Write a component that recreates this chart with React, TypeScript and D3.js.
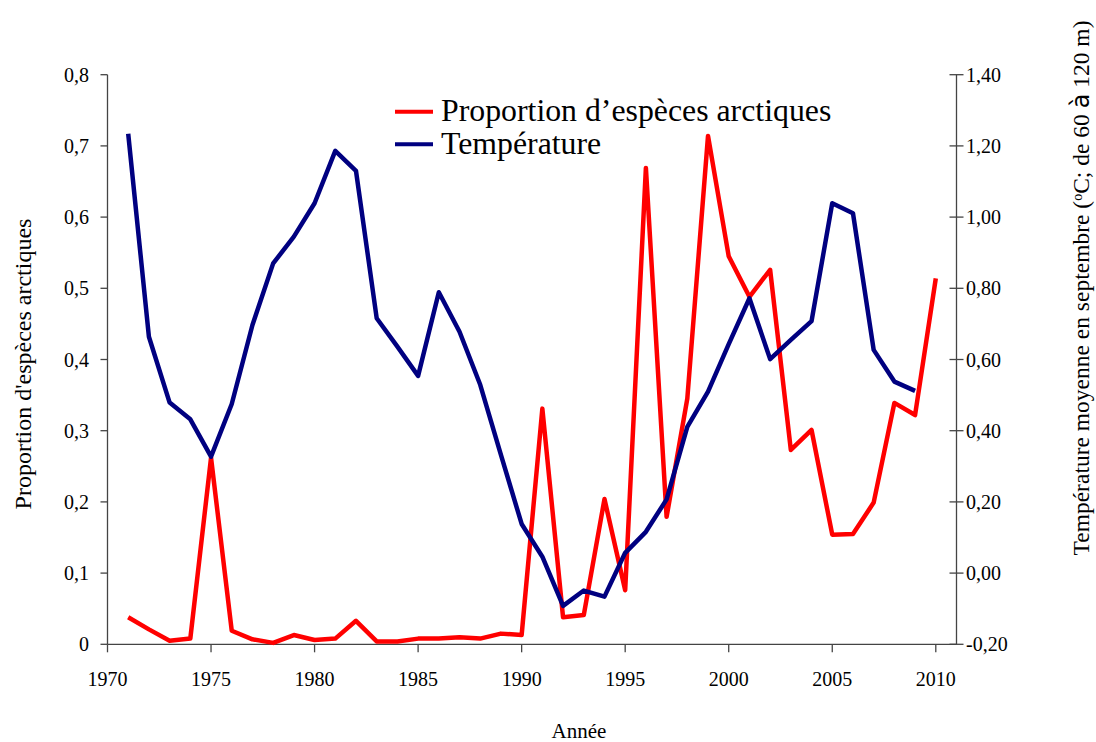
import React from "react";
import * as d3 from "d3";

const years = [1971, 1972, 1973, 1974, 1975, 1976, 1977, 1978, 1979, 1980, 1981, 1982, 1983, 1984, 1985, 1986, 1987, 1988, 1989, 1990, 1991, 1992, 1993, 1994, 1995, 1996, 1997, 1998, 1999, 2000, 2001, 2002, 2003, 2004, 2005, 2006, 2007, 2008, 2009, 2010];

const proportion = [0.038, 0.021, 0.005, 0.008, 0.262, 0.019, 0.007, 0.002, 0.013, 0.006, 0.008, 0.033, 0.004, 0.004, 0.008, 0.008, 0.010, 0.008, 0.015, 0.013, 0.331, 0.038, 0.041, 0.204, 0.076, 0.669, 0.179, 0.345, 0.714, 0.545, 0.488, 0.526, 0.273, 0.301, 0.154, 0.155, 0.199, 0.339, 0.322, 0.514];

const temperature = [1.234, 0.664, 0.479, 0.432, 0.327, 0.475, 0.697, 0.870, 0.945, 1.039, 1.186, 1.130, 0.716, 0.636, 0.554, 0.789, 0.678, 0.529, 0.332, 0.138, 0.046, -0.092, -0.049, -0.066, 0.057, 0.116, 0.207, 0.411, 0.510, 0.643, 0.772, 0.601, 0.655, 0.708, 1.039, 1.011, 0.627, 0.538, 0.512];

const xTicks = [1970, 1975, 1980, 1985, 1990, 1995, 2000, 2005, 2010];
const leftTicks = [0, 0.1, 0.2, 0.3, 0.4, 0.5, 0.6, 0.7, 0.8];
const leftTickLabels = ["0", "0,1", "0,2", "0,3", "0,4", "0,5", "0,6", "0,7", "0,8"];
const rightTicks = [-0.2, 0, 0.2, 0.4, 0.6, 0.8, 1.0, 1.2, 1.4];
const rightTickLabels = ["-0,20", "0,00", "0,20", "0,40", "0,60", "0,80", "1,00", "1,20", "1,40"];

const seriesNames = ["Proportion d\u2019esp\u00e8ces arctiques", "Temp\u00e9rature"];
const seriesColors = ["#ff0000", "#000080"];

const FONT = "'Liberation Serif', 'Times New Roman', serif";

export default function App() {
  const left = 107.5, right = 956.5, top = 74.7, bottom = 644.3;
  const x = d3.scaleLinear().domain([1970, 2011]).range([left, right]);
  const yL = d3.scaleLinear().domain([0, 0.8]).range([bottom, top]);
  const yR = d3.scaleLinear().domain([-0.2, 1.4]).range([bottom, top]);

  const propLine = d3.line<number>().x((_, i) => x(years[i])).y((d) => yL(d));
  const tempLine = d3.line<number>().x((_, i) => x(years[i])).y((d) => yR(d));

  const axisColor = "#444";

  return (
    <svg width={1096} height={742} style={{ position: "absolute", left: 0, top: 0, background: "#fff" }} fontFamily={FONT}>
      {/* axes */}
      <line x1={left} x2={left} y1={top} y2={bottom} stroke={axisColor} strokeWidth={1.3} />
      <line x1={right} x2={right} y1={top} y2={bottom} stroke={axisColor} strokeWidth={1.3} />
      <line x1={left} x2={right} y1={bottom} y2={bottom} stroke={axisColor} strokeWidth={1.3} />

      {leftTicks.map((t, i) => (
        <g key={"l" + i}>
          <line x1={left - 7} x2={left} y1={yL(t)} y2={yL(t)} stroke={axisColor} strokeWidth={1.3} />
          <text x={89} y={yL(t)} dy="0.35em" textAnchor="end" fontSize={20} fill="#000">{leftTickLabels[i]}</text>
        </g>
      ))}
      {rightTicks.map((t, i) => (
        <g key={"r" + i}>
          <line x1={right - 7} x2={right + 7} y1={yR(t)} y2={yR(t)} stroke={axisColor} strokeWidth={1.3} />
          <text x={966} y={yR(t)} dy="0.35em" textAnchor="start" fontSize={20} fill="#000">{rightTickLabels[i]}</text>
        </g>
      ))}
      {xTicks.map((t) => (
        <g key={"x" + t}>
          <line x1={x(t)} x2={x(t)} y1={bottom} y2={bottom + 8} stroke={axisColor} strokeWidth={1.3} />
          <text x={x(t)} y={686} textAnchor="middle" fontSize={20} fill="#000">{t}</text>
        </g>
      ))}

      {/* series */}
      <path d={propLine(proportion) || ""} fill="none" stroke={seriesColors[0]} strokeWidth={4.5} strokeLinejoin="round" />
      <path d={tempLine(temperature) || ""} fill="none" stroke={seriesColors[1]} strokeWidth={4.5} strokeLinejoin="round" />

      {/* legend */}
      {seriesNames.map((n, i) => (
        <g key={"lg" + i}>
          <line x1={395} x2={433} y1={111.7 + i * 32.6} y2={111.7 + i * 32.6} stroke={seriesColors[i]} strokeWidth={4} />
          <text x={441} y={121 + i * 32.6} fontSize={31.8} fill="#000">{n}</text>
        </g>
      ))}

      {/* axis titles */}
      <text x={579} y={738} textAnchor="middle" fontSize={21} fill="#000">Année</text>
      <text transform="translate(31,364) rotate(-90)" textAnchor="middle" fontSize={24} fill="#000">Proportion d'espèces arctiques</text>
      <text transform="translate(1089,288) rotate(-90)" textAnchor="middle" fontSize={23.5} fill="#000">
        Température moyenne en septembre (
        <tspan baselineShift="super" fontSize={14}>o</tspan>
        C; de 60 <tspan fontFamily="'DejaVu Sans', sans-serif" fontSize={24}>à</tspan> 120 m)
      </text>
    </svg>
  );
}
